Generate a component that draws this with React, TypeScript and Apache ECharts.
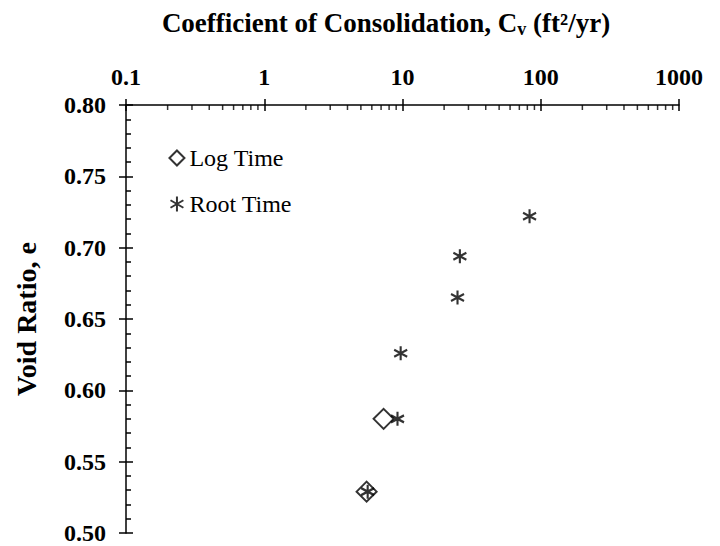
import React, { useEffect, useRef } from "react";
import * as echarts from "echarts";

// ---- data ----
const logTimeCv = [7.3, 5.5];
const logTimeE = [0.58, 0.529];
const rootTimeCv = [83, 26, 25, 9.7, 9.2, 5.6];
const rootTimeE = [0.722, 0.694, 0.665, 0.626, 0.58, 0.529];
const xMinorTicks = [
  0.2, 0.3, 0.4, 0.5, 0.6, 0.7, 0.8, 0.9,
  2, 3, 4, 5, 6, 7, 8, 9,
  20, 30, 40, 50, 60, 70, 80, 90,
  200, 300, 400, 500, 600, 700, 800, 900,
];
const seriesNames = ["Log Time", "Root Time"];
const titleText = "Coefficient of Consolidation, C";
const yAxisTitle = "Void Ratio, e";

const FONT = '"Liberation Serif", "Times New Roman", serif';
const ASTERISK = "path://M5,0L5,10M0.7,2.5L9.3,7.5M0.7,7.5L9.3,2.5";

export default function App() {
  const ref = useRef<HTMLDivElement>(null);
  useEffect(() => {
    if (!ref.current) return;
    const chart = echarts.init(ref.current, null, { renderer: "svg" });
    const fmtX = (v: number) => String(+Number(v).toPrecision(6));
    chart.setOption({
      animation: false,
      backgroundColor: "#fff",
      grid: { left: 126, right: 41, top: 105, bottom: 13 },
      graphic: [
        {
          type: "text",
          x: 386,
          y: 23,
          style: {
            text: `{b|${titleText}}{s|v}{b| (ft²/yr)}`,
            align: "center",
            verticalAlign: "middle",
            fill: "#000",
            rich: {
              b: { fontFamily: FONT, fontWeight: "bold", fontSize: 27, fill: "#000" },
              s: { fontFamily: FONT, fontWeight: "bold", fontSize: 18, padding: [12, 0, 0, 0], fill: "#000" },
            },
          },
        },
      ],
      legend: {
        orient: "vertical",
        left: 163,
        top: 141,
        itemWidth: 15,
        itemHeight: 15,
        itemGap: 22,
        data: seriesNames,
        textStyle: { fontFamily: FONT, fontSize: 24, color: "#000" },
      },
      xAxis: [
        {
          type: "log",
          logBase: 10,
          min: 0.1,
          max: 1000,
          splitNumber: 4,
          position: "top",
          axisLine: { show: true, lineStyle: { color: "#000", width: 1.5 } },
          axisTick: { show: true, length: 6, lineStyle: { color: "#000", width: 1.5 } },
          axisLabel: {
            margin: 16,
            fontFamily: FONT,
            fontWeight: "bold",
            fontSize: 24,
            color: "#000",
            formatter: fmtX,
          },
          splitLine: { show: false },
        },
        {
          type: "log",
          logBase: 10,
          min: 0.1,
          max: 1000,
          splitNumber: 4,
          position: "top",
          axisLine: { show: false },
          axisTick: { show: true, inside: true, length: 6, lineStyle: { color: "#000", width: 1.5 } },
          axisLabel: { show: false },
          splitLine: { show: false },
        },
      ],
      yAxis: [
        {
          type: "value",
          min: 0.5,
          max: 0.8,
          interval: 0.05,
          position: "left",
          name: yAxisTitle,
          nameLocation: "middle",
          nameGap: 86,
          nameMoveOverlap: false,
          nameTextStyle: { fontFamily: FONT, fontWeight: "bold", fontSize: 28, color: "#000" },
          axisLine: { show: true, lineStyle: { color: "#000", width: 1.5 } },
          axisTick: { show: true, length: 7, lineStyle: { color: "#000", width: 1.5 } },
          axisLabel: {
            margin: 20,
            fontFamily: FONT,
            fontWeight: "bold",
            fontSize: 24,
            color: "#000",
            formatter: (v: number) => v.toFixed(2),
          },
          splitLine: { show: false },
        },
        {
          type: "value",
          min: 0.5,
          max: 0.8,
          interval: 0.05,
          position: "left",
          axisLine: { show: false },
          axisTick: { show: true, inside: true, length: 7, lineStyle: { color: "#000", width: 1.5 } },
          minorTick: { show: true, splitNumber: 5, length: 5, lineStyle: { color: "#000", width: 1.5 } },
          axisLabel: { show: false },
          splitLine: { show: false },
        },
      ],
      series: [
        {
          name: seriesNames[0],
          type: "scatter",
          symbol: "diamond",
          symbolSize: 20,
          itemStyle: { color: "#fff", borderColor: "#000", borderWidth: 2 },
          data: logTimeCv.map((x, i) => [x, logTimeE[i]]),
          z: 3,
        },
        {
          name: seriesNames[1],
          type: "scatter",
          symbol: ASTERISK,
          symbolSize: [13, 14],
          itemStyle: { color: "none", borderColor: "#000", borderWidth: 2.2 },
          data: rootTimeCv.map((x, i) => [x, rootTimeE[i]]),
          z: 4,
        },
        {
          name: "xminor",
          type: "scatter",
          symbol: "rect",
          symbolSize: [1.5, 5],
          symbolOffset: [0, 2.5],
          silent: true,
          clip: false,
          itemStyle: { color: "#000" },
          data: xMinorTicks.map((x) => [x, 0.8]),
        },
      ],
    });
    return () => chart.dispose();
  }, []);
  return (
    <div
      ref={ref}
      style={{ position: "fixed", left: 0, top: 0, width: 720, height: 546 }}
    />
  );
}
